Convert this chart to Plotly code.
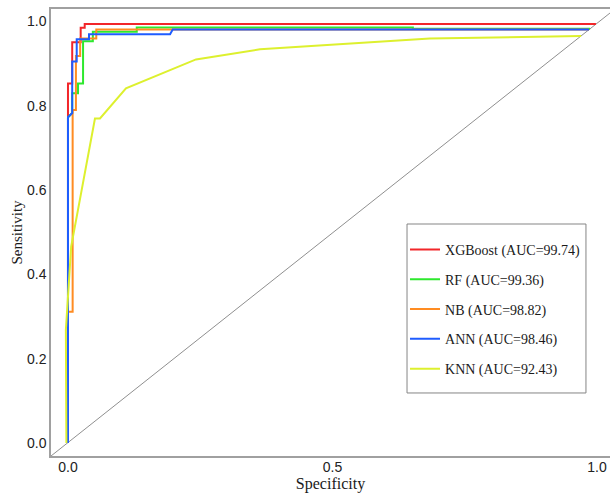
import plotly.graph_objects as go

# ---------------- data ----------------
xgb_x = [0.0, 0.0, 0.008, 0.008, 0.024, 0.024, 0.0316, 0.0316, 0.998]
xgb_y = [0.0, 0.853, 0.853, 0.951, 0.951, 0.985, 0.985, 0.994, 0.994]

rf_x = [0.0, 0.0, 0.008, 0.008, 0.019, 0.019, 0.0285, 0.0285, 0.047, 0.047, 0.130, 0.130, 0.652, 0.652, 0.987]
rf_y = [0.0, 0.773, 0.783, 0.830, 0.830, 0.853, 0.853, 0.953, 0.953, 0.976, 0.976, 0.986, 0.986, 0.983, 0.983]

nb_x = [0.0, 0.0, 0.0088, 0.0088, 0.015, 0.015, 0.023, 0.023, 0.0535, 0.0535, 0.985]
nb_y = [0.0, 0.3115, 0.3115, 0.790, 0.790, 0.918, 0.918, 0.960, 0.960, 0.981, 0.981]

ann_x = [0.0, 0.0, 0.008, 0.008, 0.0165, 0.0165, 0.0397, 0.0397, 0.193, 0.198, 0.985]
ann_y = [0.0, 0.773, 0.783, 0.905, 0.905, 0.958, 0.958, 0.970, 0.970, 0.981, 0.981]

knn_x = [-0.003, -0.004, 0.006, 0.051, 0.0605, 0.1096, 0.242, 0.363, 0.684, 0.970]
knn_y = [0.0, 0.268, 0.466, 0.770, 0.770, 0.8415, 0.910, 0.934, 0.960, 0.9656]

diag_x = [-0.0321, 1.0246]
diag_y = [-0.0308, 1.0202]

names = ["XGBoost (AUC=99.74)", "RF (AUC=99.36)", "NB (AUC=98.82)",
         "ANN (AUC=98.46)", "KNN (AUC=92.43)"]
colors = ["#F2262A", "#2EE82E", "#FF8C22", "#1F5CFF", "#DDF02E"]

tick_vals_x = [0.0, 0.5, 1.0]
tick_text_x = ["0.0", "0.5", "1.0"]
tick_vals_y = [0.0, 0.2, 0.4, 0.6, 0.8, 1.0]
tick_text_y = ["0.0", "0.2", "0.4", "0.6", "0.8", "1.0"]

# ---------------- figure ----------------
fig = go.Figure()
fig.add_trace(go.Scatter(x=diag_x, y=diag_y, mode="lines",
                         line=dict(color="#8f8f8f", width=1),
                         showlegend=False, hoverinfo="skip"))

series = [(xgb_x, xgb_y), (rf_x, rf_y), (nb_x, nb_y), (ann_x, ann_y), (knn_x, knn_y)]
for i, ((sx, sy), nm, col) in enumerate(zip(series, names, colors)):
    fig.add_trace(go.Scatter(x=sx, y=sy, mode="lines", name=nm,
                             legendgroup="g%d" % i,
                             line=dict(color=col, width=2)))

# legend frame
fig.add_shape(type="rect", xref="paper", yref="paper",
              x0=0.6369, x1=0.957, y0=0.141, y1=0.519,
              line=dict(color="#858585", width=1), fillcolor="rgba(0,0,0,0)",
              layer="below")

fig.update_layout(
    width=610, height=497,
    margin=dict(l=51, r=0, t=9, b=41),
    paper_bgcolor="white", plot_bgcolor="white",
    showlegend=True,
    legend=dict(
        x=0.6333, y=0.497, xanchor="left", yanchor="top",
        bgcolor="rgba(0,0,0,0)", borderwidth=0,
        font=dict(family="Liberation Serif", size=14, color="#1a1a1a"),
        tracegroupgap=8.6, itemwidth=30,
    ),
    xaxis=dict(
        range=[-0.0321, 1.0246], showgrid=False, zeroline=False,
        showline=True, linecolor="#a0a0a0", linewidth=1.5, mirror=True,
        tickmode="array", tickvals=tick_vals_x, ticktext=tick_text_x,
        ticks="", ticklabelstandoff=-3,
        tickfont=dict(family="Liberation Sans", size=14, color="#222222"),
        title=dict(text="Specificity", standoff=3,
                   font=dict(family="Liberation Serif", size=16, color="#1a1a1a")),
        automargin=False,
    ),
    yaxis=dict(
        range=[-0.0308, 1.0297], showgrid=False, zeroline=False,
        showline=True, linecolor="#a0a0a0", linewidth=1.5, mirror=False,
        tickmode="array", tickvals=tick_vals_y, ticktext=tick_text_y,
        ticks="", tickfont=dict(family="Liberation Sans", size=14, color="#222222"),
        title=dict(text="Sensitivity", standoff=1,
                   font=dict(family="Liberation Serif", size=15, color="#1a1a1a")),
        automargin=False,
    ),
)

fig.write_html("out.html",
               config={"displayModeBar": False},
               post_script="document.body.style.margin='0';document.body.style.overflow='hidden';")
